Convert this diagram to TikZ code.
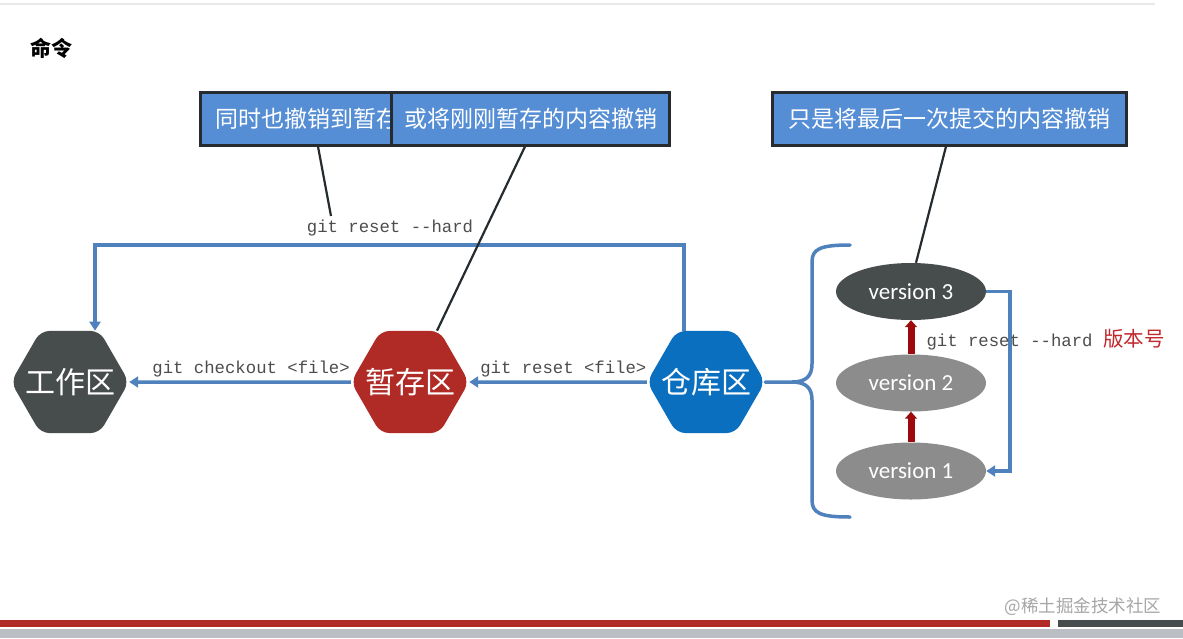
\documentclass[tikz,border=0pt]{standalone}
\usepackage{fontspec}
\usetikzlibrary{arrows.meta,shapes.geometric}
\newfontfamily\cjk{Noto Sans CJK SC}
\newfontfamily\verfont{Carlito}
\setmonofont{Liberation Mono}
\definecolor{gitDark}{HTML}{474C4D}
\definecolor{gitRed}{HTML}{B12B26}
\definecolor{gitBlue}{HTML}{0B6FBF}
\definecolor{gitLine}{HTML}{4F81BD}
\definecolor{gitNote}{HTML}{558ED5}
\definecolor{gitBorder}{HTML}{252B2E}
\definecolor{gitGray}{HTML}{8C8C8C}
\definecolor{gitArrow}{HTML}{9C0A0E}
\definecolor{gitText}{HTML}{4D4D4D}
\definecolor{gitWarn}{HTML}{C0282D}
\definecolor{gitRule}{HTML}{E9E9E9}
\definecolor{gitBand}{HTML}{BCBEC6}
\definecolor{gitMark}{HTML}{A6A6A6}
\tikzset{
  zone/.style={regular polygon, regular polygon sides=6, minimum size=118pt, inner sep=0pt, rounded corners=9pt, text=white, font=\cjk\fontsize{30}{34}\selectfont},
  note/.style={rectangle, draw=gitBorder, line width=3pt, fill=gitNote, text=white, minimum height=53pt, inner ysep=0pt, font=\cjk\fontsize{23}{27}\selectfont},
  version/.style={ellipse, minimum width=150pt, minimum height=57pt, inner sep=0pt, text=white, font=\verfont\fontsize{23}{27}\selectfont},
  flow/.style={-{Triangle[width=11pt,length=9pt]}, line width=3.5pt, draw=gitLine},
  curly/.style={line width=3.5pt, draw=gitLine, line cap=round},
  pointer/.style={line width=2.2pt, draw=gitBorder},
  bump/.style={-{Triangle[width=12pt,length=7pt]}, line width=7pt, draw=gitArrow},
  cmd/.style={font=\ttfamily\fontsize{17.3}{20}\selectfont, text=gitText}
}

\begin{document}
\begin{tikzpicture}[x=1pt, y=-1pt]
  \useasboundingbox (0,0) rectangle (1183,638);
  \fill[white] (0,0) rectangle (1183,638);
  \draw[gitRule, line width=1.5pt] (0,4) -- (1155,4);
  \node[anchor=west, font=\cjk\bfseries\fontsize{21}{25}\selectfont] (title) at (27,48) {命令};

  % zones
  \node[zone, fill=gitDark] (work) at (70,382) {\makebox[0pt]{工作区}};
  \node[zone, fill=gitRed] (stage) at (410,382) {\makebox[0pt]{暂存区}};
  \node[zone, fill=gitBlue] (repo) at (706,382) {\makebox[0pt]{仓库区}};

  % notes
  \node[note, anchor=west, inner xsep=15pt] (undoall) at (199,118.5) {同时也撤销到暂存};
  \node[note, anchor=west, minimum width=278pt] (undostage) at (390,118.5) {或将刚刚暂存的内容撤销};
  \node[note, minimum width=354pt] (undocommit) at (949,118.5) {只是将最后一次提交的内容撤销};

  % versions
  \node[version, fill=gitDark] (v3) at (911,291.5) {version 3};
  \node[version, fill=gitGray] (v2) at (911,383) {version 2};
  \node[version, fill=gitGray] (v1) at (911,471) {version 1};

  % brace
  \coordinate (bracetip) at (792,382);
  \draw[curly] (850,245) .. controls (820,245) and (812,249) .. (812,262) -- (812,364)
    .. controls (812,376) and (806,382) .. (bracetip)
    .. controls (806,382) and (812,388) .. (812,400) -- (812,500)
    .. controls (812,513) and (820,517) .. (850,517);
  \draw[curly] (repo) -- (bracetip);

  % commands
  \draw[flow] (stage) -- node[cmd, above, pos=0.45] (checkoutlbl) {git checkout <file>} (work);
  \draw[flow] (repo) -- node[cmd, above, pos=0.47] (resetlbl) {git reset <file>} (stage);
  \coordinate (hardtop) at (684,245);
  \draw[flow] (hardtop |- repo.north) -- (hardtop) -| ([xshift=25pt]work.north);
  \node[cmd] (hardlbl) at (390,228) {git reset -\kern0pt-hard};

  % pointers
  \coordinate (hardtip) at (331,216);
  \draw[pointer] ([xshift=119pt]undoall.south west) -- (hardtip);
  \draw[pointer] ([xshift=135pt]undostage.south west) -- ([xshift=27pt]stage.north);
  \draw[pointer] ([xshift=-3pt]undocommit.south) -- ([xshift=5pt]v3.north);

  % version steps
  \draw[bump] (v2) -- (v3);
  \draw[bump] (v1) -- (v2);
  \draw[flow] (v3.east) -- ++(24,0) |- (v1.east);
  \node[cmd, anchor=west] (versionlbl) at (923,340) {git reset -\kern0pt-hard \textcolor{gitWarn}{\cjk\fontsize{20.5}{24}\selectfont 版本号}};

  % footer
  \fill[gitRed] (0,620) rectangle (1050,627);
  \fill[gitDark] (1058,620) rectangle (1183,627);
  \fill[gitBand] (0,628.5) rectangle (1183,638);
  \node[font=\cjk\fontsize{17.5}{20}\selectfont, text=gitMark] (mark) at (1083,607) {@稀土掘金技术社区};
\end{tikzpicture}
\end{document}
